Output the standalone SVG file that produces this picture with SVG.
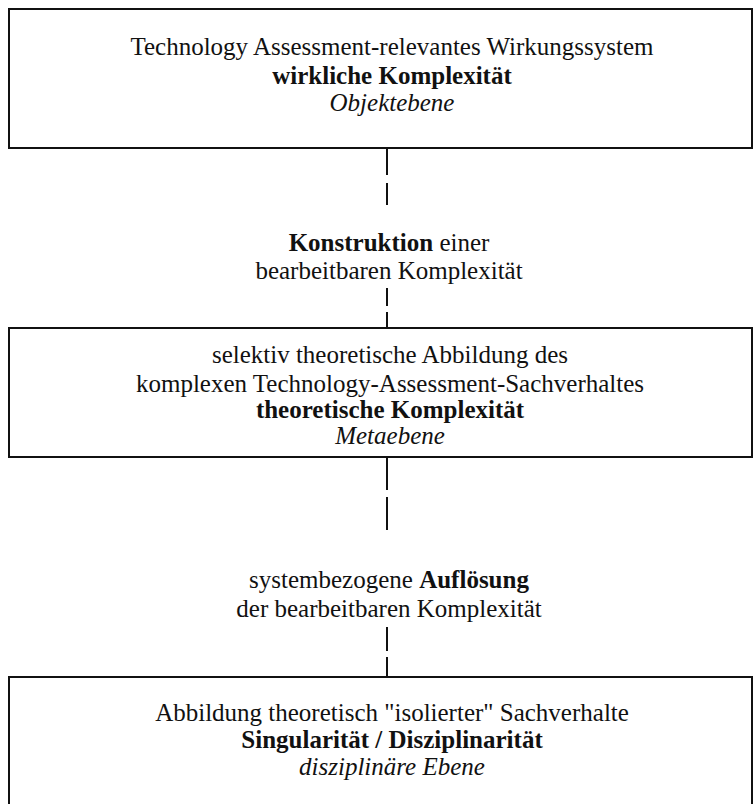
<svg xmlns="http://www.w3.org/2000/svg" width="755" height="804" viewBox="0 0 755 804">
  <style>
    .box { fill: #ffffff; stroke: #111111; stroke-width: 2; }
    .t { font-family: "Liberation Serif", "Times New Roman", serif; font-size: 25px; fill: #111111; text-anchor: middle; }
    .b { font-weight: bold; }
    .i { font-style: italic; }
    .link { stroke: #111111; stroke-width: 2; fill: none; }
  </style>
  <rect width="755" height="804" fill="#ffffff"/>

  <!-- connectors between the levels -->
  <g id="connectors">
    <path class="link" d="M387 149 V175 M387 183 V205"/>
    <path class="link" d="M387 288 V306 M387 312 V328"/>
    <path class="link" d="M387 458 V490 M387 497 V530"/>
    <path class="link" d="M387 627 V651 M387 657 V677"/>
  </g>

  <!-- object level -->
  <g id="objektebene">
    <rect class="box" x="9" y="9" width="743" height="139"/>
    <text class="t" x="392" y="55">Technology Assessment-relevantes Wirkungssystem</text>
    <text class="t b" x="392" y="84">wirkliche Komplexität</text>
    <text class="t i" x="392" y="111">Objektebene</text>
  </g>

  <!-- construction step -->
  <g id="konstruktion">
    <text class="t" x="389" y="251"><tspan class="b">Konstruktion</tspan> einer</text>
    <text class="t" x="389" y="279">bearbeitbaren Komplexität</text>
  </g>

  <!-- meta level -->
  <g id="metaebene">
    <rect class="box" x="9" y="328" width="743" height="129"/>
    <text class="t" x="390" y="363">selektiv theoretische Abbildung des</text>
    <text class="t" x="390" y="392">komplexen Technology-Assessment-Sachverhaltes</text>
    <text class="t b" x="390" y="418">theoretische Komplexität</text>
    <text class="t i" x="390" y="444">Metaebene</text>
  </g>

  <!-- dissolution step -->
  <g id="aufloesung">
    <text class="t" x="389" y="588">systembezogene <tspan class="b">Auflösung</tspan></text>
    <text class="t" x="389" y="617">der bearbeitbaren Komplexität</text>
  </g>

  <!-- disciplinary level (open towards the bottom edge) -->
  <g id="disziplinaere-ebene">
    <rect class="box" x="9" y="677" width="743" height="140"/>
    <text class="t" x="392" y="721">Abbildung theoretisch "isolierter" Sachverhalte</text>
    <text class="t b" x="392" y="748">Singularität / Disziplinarität</text>
    <text class="t i" x="392" y="775">disziplinäre Ebene</text>
  </g>
</svg>
